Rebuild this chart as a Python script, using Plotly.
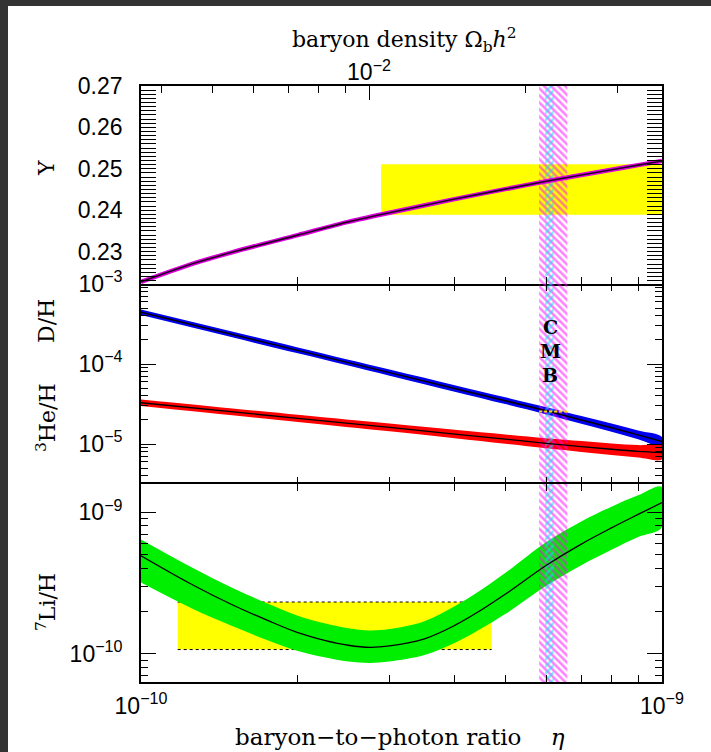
import numpy as np
import plotly.graph_objects as go

# ---------------- data ----------------
# baryon-to-photon ratio, in units of 1e-10
eta10_Y = [1, 1.25, 1.5, 2, 2.5, 3, 4, 5, 6, 7, 8, 9, 10]
Y_vals = [0.2227, 0.2270, 0.2299, 0.2340, 0.2372, 0.2394, 0.2427, 0.2451,
          0.2470, 0.2485, 0.2498, 0.2509, 0.2519]

eta10_lt = [1, 2, 3, 4, 5, 6, 7, 8, 9, 10]
DH_vals = [4.43e-4, 1.48e-4, 7.8e-5, 4.95e-5, 3.48e-5, 2.6e-5, 2.0e-5, 1.6e-5, 1.3e-5, 1.07e-5]
DH_err_dex = [0.035, 0.037, 0.039, 0.041, 0.043, 0.045, 0.048, 0.051, 0.054, 0.057]
He3_vals = [3.28e-5, 2.09e-5, 1.61e-5, 1.33e-5, 1.15e-5, 1.02e-5, 9.3e-6, 8.6e-6, 8.1e-6, 7.8e-6]
He3_err_dex = [0.04, 0.044, 0.048, 0.053, 0.058, 0.063, 0.068, 0.073, 0.078, 0.083]

eta10_Li = [1, 1.25, 1.5, 1.75, 2, 2.25, 2.5, 2.75, 3, 3.5, 4, 4.5, 5, 6, 7, 8, 9, 10]
Li_vals = [4.93e-10, 3.10e-10, 2.21e-10, 1.72e-10, 1.41e-10, 1.245e-10, 1.148e-10, 1.109e-10,
           1.135e-10, 1.274e-10, 1.585e-10, 2.04e-10, 2.63e-10, 4.22e-10, 5.96e-10,
           7.76e-10, 9.66e-10, 1.172e-9]
Li_up_dex = [0.115, 0.12, 0.12, 0.12, 0.12, 0.12, 0.12, 0.12, 0.12, 0.125, 0.135, 0.142,
             0.15, 0.165, 0.16, 0.15, 0.135, 0.11]
Li_dn_dex = [0.19, 0.17, 0.15, 0.14, 0.13, 0.12, 0.115, 0.11, 0.11, 0.115, 0.125, 0.132,
             0.14, 0.145, 0.15, 0.155, 0.16, 0.175]

# observational boxes
Y_box_eta = [2.89e-10, 1e-9]
Y_box_Y = [0.2389, 0.2511]
Li_box_eta = [1.176e-10, 4.71e-10]
Li_box_Li = [1.07e-10, 2.32e-10]
DH_obs = 2.55e-5

# CMB band
cmb_outer = [5.81e-10, 6.58e-10]
cmb_inner = [5.96e-10, 6.20e-10]

# top axis: Omega_b h^2
omega_per_eta10 = 3.65e-3
omega_major = [0.01]
omega_minor = [0.004, 0.005, 0.006, 0.007, 0.008, 0.009, 0.02, 0.03]

# ---------------- figure ----------------
def eta(v):
    return [x * 1e-10 for x in v]

fig = go.Figure()
SERIF = "DejaVu Serif"
SANS = "Liberation Sans"

def band(xs, lo, hi, color, xa, ya):
    fig.add_trace(go.Scatter(x=list(xs) + list(xs)[::-1], y=list(hi) + list(lo)[::-1],
                             fill="toself", fillcolor=color, line=dict(width=0, shape="spline"),
                             mode="lines", xaxis=xa, yaxis=ya, hoverinfo="skip",
                             showlegend=False))

def box(xr, yr, color, xa, ya):
    fig.add_trace(go.Scatter(x=[xr[0], xr[1], xr[1], xr[0], xr[0]],
                             y=[yr[0], yr[0], yr[1], yr[1], yr[0]],
                             fill="toself", fillcolor=color, line=dict(width=0),
                             mode="lines", xaxis=xa, yaxis=ya, hoverinfo="skip",
                             showlegend=False))

def hatch(xa, ya, ymin, ymax):
    for rng, shape, col in [(cmb_outer, "\\", "#ff00ff"), (cmb_inner, "/", "#00e5ff")]:
        fig.add_trace(go.Scatter(x=[rng[0], rng[1], rng[1], rng[0], rng[0]],
                                 y=[ymin, ymin, ymax, ymax, ymin],
                                 fill="toself", fillcolor="rgba(0,0,0,0)",
                                 fillpattern=dict(shape=shape, fgcolor=col,
                                                  bgcolor="rgba(0,0,0,0)",
                                                  size=5, solidity=0.5),
                                 line=dict(width=0), mode="lines",
                                 xaxis=xa, yaxis=ya, hoverinfo="skip", showlegend=False))

# Panel 1: Y
box(Y_box_eta, Y_box_Y, "#ffff00", "x", "y")
hatch("x", "y", 0.2222, 0.27)
fig.add_trace(go.Scatter(x=eta(eta10_Y), y=Y_vals, mode="lines",
                         line=dict(color="#dd00dd", width=4.5, shape="spline", smoothing=0.8),
                         xaxis="x", yaxis="y", hoverinfo="skip", showlegend=False))
fig.add_trace(go.Scatter(x=eta(eta10_Y), y=Y_vals, mode="lines",
                         line=dict(color="#220022", width=1.6, shape="spline", smoothing=0.8),
                         xaxis="x", yaxis="y", hoverinfo="skip", showlegend=False))
# invisible trace for top Omega axis
fig.add_trace(go.Scatter(x=[1e-10, 1e-9], y=[0.25, 0.25], mode="lines", line=dict(width=0),
                         xaxis="x4", yaxis="y", hoverinfo="skip", showlegend=False))

# Panel 2: D/H and 3He/H
x_lt = eta(eta10_lt)
band(x_lt, [v / 10 ** e for v, e in zip(DH_vals, DH_err_dex)],
     [v * 10 ** e for v, e in zip(DH_vals, DH_err_dex)], "#0000ee", "x2", "y2")
band(x_lt, [v / 10 ** e for v, e in zip(He3_vals, He3_err_dex)],
     [v * 10 ** e for v, e in zip(He3_vals, He3_err_dex)], "#ff0000", "x2", "y2")
hatch("x2", "y2", 10 ** -5.5, 1e-3)
fig.add_trace(go.Scatter(x=x_lt, y=DH_vals, mode="lines", line=dict(color="#000000", width=1.5, shape="spline"),
                         xaxis="x2", yaxis="y2", hoverinfo="skip", showlegend=False))
fig.add_trace(go.Scatter(x=x_lt, y=He3_vals, mode="lines", line=dict(color="#000000", width=1.3, shape="spline"),
                         xaxis="x2", yaxis="y2", hoverinfo="skip", showlegend=False))
fig.add_trace(go.Scatter(x=cmb_outer, y=[DH_obs, DH_obs], mode="lines",
                         line=dict(color="#ffdd00", width=2, dash="3px,2px"),
                         xaxis="x2", yaxis="y2", hoverinfo="skip", showlegend=False))

# Panel 3: Li7
x_li = eta(eta10_Li)
box(Li_box_eta, Li_box_Li, "#ffff00", "x3", "y3")
for yv in Li_box_Li:
    fig.add_trace(go.Scatter(x=Li_box_eta, y=[yv, yv], mode="lines",
                             line=dict(color="#000000", width=1, dash="dot"),
                             xaxis="x3", yaxis="y3", hoverinfo="skip", showlegend=False))
band(x_li, [v / 10 ** e for v, e in zip(Li_vals, Li_dn_dex)],
     [v * 10 ** e for v, e in zip(Li_vals, Li_up_dex)], "#00ee00", "x3", "y3")
hatch("x3", "y3", 10 ** -10.2, 10 ** -8.8)
fig.add_trace(go.Scatter(x=x_li, y=Li_vals, mode="lines", line=dict(color="#000000", width=1.3, shape="spline"),
                         xaxis="x3", yaxis="y3", hoverinfo="skip", showlegend=False))

# ---------------- axes ----------------
eta_minor = [k * 1e-10 for k in range(2, 10)]
axline = dict(linecolor="black", linewidth=1.8, showgrid=False, zeroline=False,
              ticks="inside", tickcolor="black", tickwidth=1.3)

def sup(exp):
    return "10<sup>\u2212%d</sup>" % exp

xcommon = dict(type="log", range=[-10, -9], domain=[0, 1], tickmode="array",
               tickvals=[1e-10, 1e-9], ticklen=14,
               minor=dict(tickmode="array", tickvals=eta_minor, ticks="inside", ticklen=7,
                          tickcolor="black", tickwidth=1.3),
               **axline)

D1 = [0.6678, 1.0]
D2 = [0.3322, 0.6678]
D3 = [0.0, 0.3322]

Y_major = [0.23, 0.24, 0.25, 0.26, 0.27]
Y_minor = [round(v, 3) for v in np.arange(0.223, 0.2700, 0.001) if round(v * 1000) % 10 != 0]
lt_major = [1e-5, 1e-4, 1e-3]
lt_minor = [k * 10.0 ** e for e in (-6, -5, -4) for k in range(2, 10) if k * 10.0 ** e > 10 ** -5.5]
li_major = [1e-10, 1e-9]
li_minor = [k * 10.0 ** e for e in (-11, -10) for k in range(2, 10) if k * 10.0 ** e > 10 ** -10.2]

tickfont = dict(family=SANS, size=23, color="black")

fig.update_layout(
    width=711, height=752,
    margin=dict(l=141, r=49, t=86, b=70),
    paper_bgcolor="#333333", plot_bgcolor="white",
    showlegend=False,
    xaxis=dict(anchor="y", showticklabels=False, showline=True, mirror=True, **xcommon),
    xaxis2=dict(anchor="y2", showticklabels=False, showline=False, mirror="allticks", **xcommon),
    xaxis3=dict(anchor="y3", showticklabels=True, showline=True, mirror="allticks",
                ticktext=[sup(10), sup(9)], tickfont=tickfont, ticklabelstandoff=2, **xcommon),
    xaxis4=dict(type="log", range=[-10, -9], overlaying="x", anchor="y", side="top",
                showline=False, tickmode="array",
                tickvals=[o / omega_per_eta10 * 1e-10 for o in omega_major],
                ticktext=[sup(2)], ticklen=14, tickfont=tickfont, ticklabelstandoff=0,
                minor=dict(tickmode="array",
                           tickvals=[o / omega_per_eta10 * 1e-10 for o in omega_minor],
                           ticks="inside", ticklen=7, tickcolor="black", tickwidth=1.3),
                **axline),
    yaxis=dict(domain=D1, range=[0.2222, 0.27], anchor="x", showline=True, mirror="allticks",
               tickmode="array", tickvals=Y_major, ticktext=["%.2f" % v for v in Y_major],
               ticklen=15, tickfont=tickfont, ticklabelstandoff=12,
               minor=dict(tickmode="array", tickvals=Y_minor, ticks="inside", ticklen=7,
                          tickcolor="black", tickwidth=1),
               **axline),
    yaxis2=dict(domain=D2, type="log", range=[-5.5, -3], anchor="x2", showline=True, mirror="allticks",
                tickmode="array", tickvals=lt_major, ticktext=[sup(5), sup(4), sup(3)],
                ticklen=15, tickfont=tickfont, ticklabelstandoff=12,
                minor=dict(tickmode="array", tickvals=lt_minor, ticks="inside", ticklen=7,
                           tickcolor="black", tickwidth=1.3),
                **axline),
    yaxis3=dict(domain=D3, type="log", range=[-10.2, -8.8], anchor="x3", showline=True, mirror="allticks",
                tickmode="array", tickvals=li_major, ticktext=[sup(10), sup(9)],
                ticklen=15, tickfont=tickfont, ticklabelstandoff=12,
                minor=dict(tickmode="array", tickvals=li_minor, ticks="inside", ticklen=7,
                           tickcolor="black", tickwidth=1.3),
                **axline),
)

# ---------------- text ----------------
def px_x(p):
    return (p - 141) / 521.0

def px_y(p):
    return (682 - p) / 596.0

lab = dict(family=SERIF, size=22, color="black")
cmbf = dict(family=SERIF, size=19, color="black")
annos = [
    dict(text="baryon density \u03a9<sub>b</sub><i>h</i><sup>2</sup>", x=px_x(404), y=px_y(40), font=lab),
    dict(text="baryon\u2212to\u2212photon ratio&nbsp;&nbsp;&nbsp;&nbsp;<i>\u03b7</i>", x=px_x(400), y=px_y(737),
         font=dict(family=SERIF, size=23, color="black")),
    dict(text="Y", x=px_x(46), y=px_y(168), textangle=-90, font=lab),
    dict(text="D/H", x=px_x(46), y=px_y(321), textangle=-90, font=lab),
    dict(text="<sup>3</sup>He/H", x=px_x(46), y=px_y(418), textangle=-90, font=lab),
    dict(text="<sup>7</sup>Li/H", x=px_x(46), y=px_y(602), textangle=-90, font=lab),
    dict(text="<b>C</b>", x=px_x(550), y=px_y(327), font=cmbf),
    dict(text="<b>M</b>", x=px_x(550), y=px_y(351), font=cmbf),
    dict(text="<b>B</b>", x=px_x(550), y=px_y(375), font=cmbf),
]
for a in annos:
    fig.add_annotation(xref="paper", yref="paper", showarrow=False,
                       xanchor="center", yanchor="middle", **a)

# white page area inside the dark screenshot frame (frame: 8 px left, 6 px top)
fig.add_shape(type="rect", xref="paper", yref="paper", x0=px_x(8), x1=px_x(711),
              y0=px_y(752), y1=px_y(6), fillcolor="white", line=dict(width=0), layer="below")

fig.write_html("out.html", config={"displayModeBar": False},
               post_script="document.body.style.margin='0px';")
